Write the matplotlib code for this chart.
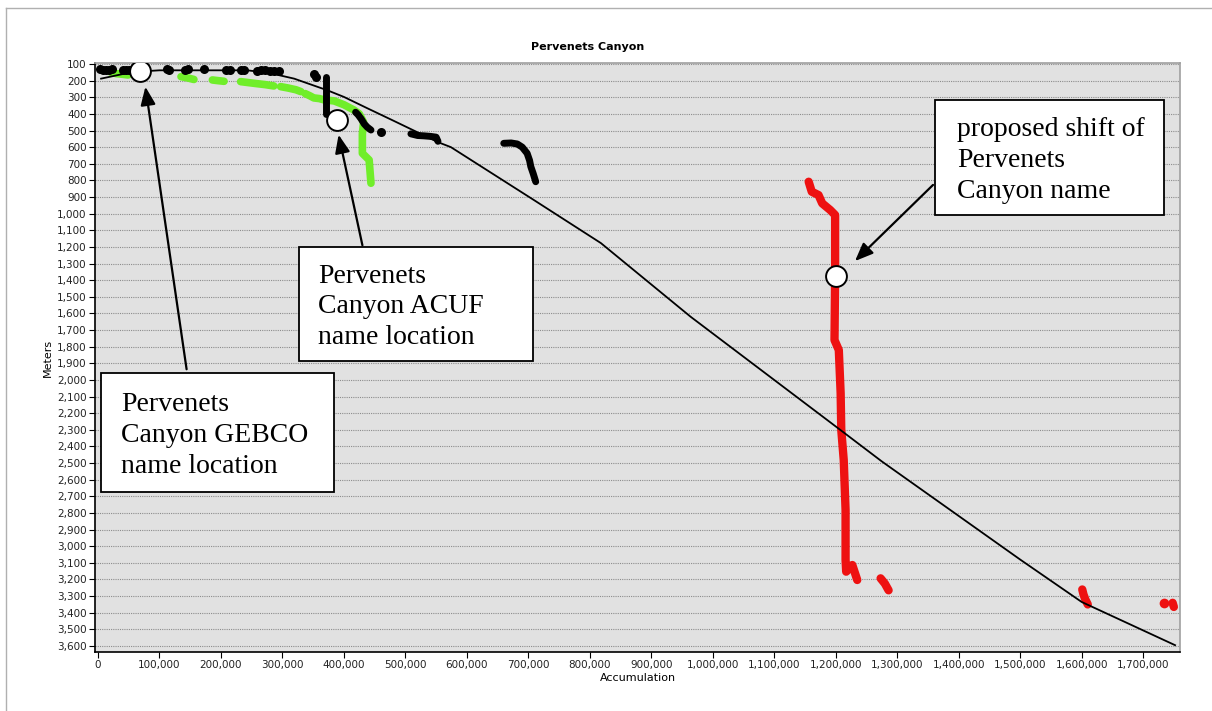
import matplotlib
matplotlib.use("Agg")
import matplotlib.pyplot as plt
from matplotlib.patches import Rectangle, FancyArrowPatch
from matplotlib.lines import Line2D
from matplotlib.ticker import FuncFormatter

# ---------------- data (accumulation in metres, depth in metres) ----------------
profile_x = [5000, 56000, 100000, 243000, 280000, 319000, 373000, 400000, 438000, 480000,
             553000, 574000, 709000, 818000, 964000, 1208000, 1275000, 1500000, 1600000, 1752000]
profile_y = [188, 148, 138, 138, 155, 188, 258, 298, 366, 440,
             570, 600, 918, 1177, 1620, 2302, 2490, 3080, 3335, 3595]

# discrete black soundings
black_dots_x = [3000, 8000, 13000, 18000, 22000, 40000, 45000, 50000, 55000, 60000,
                112000, 116000, 142000, 146000, 172000, 208000, 214000, 232000, 238000,
                258000, 265000, 272000, 280000, 287000, 294000, 352000, 354000, 460000]
black_dots_y = [133, 135, 134, 136, 133, 134, 136, 135, 134, 136,
                133, 135, 134, 133, 133, 134, 137, 134, 137,
                140, 138, 139, 141, 142, 144, 160, 178, 507]

# black sounding tracks
black_bar_x = [371000, 371000]
black_bar_y = [180, 400]
black_t1_x = [419000, 423000, 428000, 433000, 438000, 444000]
black_t1_y = [390, 405, 430, 460, 480, 497]
black_t2_x = [509000, 520000, 530000, 540000, 550000, 553000]
black_t2_y = [520, 530, 532, 535, 540, 565]
black_t3_x = [660000, 672000, 682000, 690000, 698000, 702000, 704000, 708000, 712000]
black_t3_y = [577, 575, 581, 600, 637, 680, 717, 760, 808]

# green track (segments)
green_segments = [
    ([21000, 30000, 40000, 49000], [150, 158, 162, 166]),
    ([135000, 145000, 156000], [176, 183, 193]),
    ([186000, 195000, 205000], [196, 200, 204]),
    ([232000, 245000, 258000, 272000, 286000], [206, 212, 218, 224, 232]),
    ([297000, 310000, 322000, 330000], [236, 245, 255, 266]),
    ([337000, 345000, 351000, 360000, 368000, 384000, 400000, 416000, 425000,
      432000, 430000, 430000, 441000, 444000],
     [278, 292, 304, 308, 316, 322, 345, 376, 400, 450, 520, 637, 677, 817]),
]

# red track (segments)
red_segments = [
    ([1156000, 1161000, 1172000, 1178000, 1191000, 1199000, 1199000, 1198000, 1205000,
      1208000, 1209000, 1213000, 1216000, 1216000, 1217000, 1227000, 1235000],
     [808, 868, 888, 938, 978, 1008, 1379, 1760, 1820, 2080, 2300, 2481, 2782, 3082,
      3153, 3113, 3203]),
    ([1273000, 1280000, 1286000], [3193, 3225, 3265]),
    ([1601000, 1603000, 1606000, 1610000], [3260, 3290, 3320, 3350]),
    ([1734000], [3340]),
    ([1748000, 1750000], [3340, 3365]),
]

# name-location markers
circles_x = [69000, 388000, 1200000]
circles_y = [140, 435, 1373]

box_texts = ["Pervenets\nCanyon GEBCO\nname location",
             "Pervenets\nCanyon ACUF\nname location",
             "proposed shift of\nPervenets\nCanyon name"]

y_ticks = list(range(100, 3700, 100))
x_ticks = list(range(0, 1800000, 100000))

# ---------------- figure ----------------
W, H = 1212, 711
fig = plt.figure(figsize=(W / 100, H / 100), dpi=100)
fig.patch.set_facecolor("white")


def fx(px):
    return px / W


def fy(py):
    return 1 - py / H


ax = fig.add_axes([fx(95), fy(652), fx(1180) - fx(95), fy(63) - fy(652)])
ax.set_facecolor("#e1e1e1")
ax.set_xlim(-4900, 1760000)
ax.set_ylim(3636, 94)

ax.set_yticks(y_ticks)
ax.set_xticks(x_ticks)
fmt = FuncFormatter(lambda v, p: f"{int(v):,}")
ax.xaxis.set_major_formatter(fmt)
ax.yaxis.set_major_formatter(fmt)
ax.tick_params(axis="both", labelsize=7.5, length=4, width=0.8, direction="out",
               colors="black", labelcolor="#222222", pad=2)

ax.grid(axis="y", color="#8c8c8c", linestyle=(0, (1, 1)), linewidth=0.8)
ax.set_axisbelow(True)

for side in ["top", "right"]:
    ax.spines[side].set_color("#a0a0a0")
    ax.spines[side].set_linewidth(1.2)
for side in ["left", "bottom"]:
    ax.spines[side].set_color("black")
    ax.spines[side].set_linewidth(1.2)

ax.set_xlabel("Accumulation", fontsize=8, labelpad=2)
ax.set_ylabel("Meters", fontsize=8, labelpad=3)

# tracks
for xs, ys in green_segments:
    ax.plot(xs, ys, color="#70ee2a", lw=5.5, solid_capstyle="round", solid_joinstyle="round", zorder=3)
for xs, ys in red_segments:
    if len(xs) == 1:
        ax.plot(xs, ys, "o", color="#ee1111", ms=7, mec="none", zorder=3)
    else:
        ax.plot(xs, ys, color="#ee1111", lw=6, solid_capstyle="round", solid_joinstyle="round", zorder=3)
for xs, ys in [(black_bar_x, black_bar_y), (black_t1_x, black_t1_y),
               (black_t2_x, black_t2_y), (black_t3_x, black_t3_y)]:
    ax.plot(xs, ys, color="black", lw=5, solid_capstyle="round", solid_joinstyle="round", zorder=4)
ax.plot(black_dots_x, black_dots_y, "o", color="black", ms=6.5, mec="none", zorder=4)

ax.plot(profile_x, profile_y, color="black", lw=1.3, zorder=5)

ax.plot(circles_x, circles_y, "o", ms=15, mfc="white", mec="black", mew=1.4, zorder=8)

fig.text(fx(588), fy(47), "Pervenets Canyon", ha="center", va="center",
         fontsize=8, fontweight="bold")

# outer frame lines
fig.add_artist(Line2D([fx(6), 1.0], [fy(8), fy(8)], color="#b0b0b0", lw=1))
fig.add_artist(Line2D([fx(6), fx(6)], [fy(8), 0.0], color="#b0b0b0", lw=1))

# text boxes
boxes = [(101, 373, 334, 492, 121), (299, 247, 533, 361, 318), (935, 100, 1164, 215, 957)]
for (x0, y0, x1, y1, tx), txt in zip(boxes, box_texts):
    fig.add_artist(Rectangle((fx(x0), fy(y1)), fx(x1) - fx(x0), fy(y0) - fy(y1),
                             facecolor="white", edgecolor="black", lw=1.3,
                             transform=fig.transFigure, zorder=10))
    fig.text(fx(tx), (fy(y0) + fy(y1)) / 2 - 0.004, txt, ha="left", va="center",
             fontsize=20, family="Liberation Serif", linespacing=1.3, zorder=11)

# arrows
arrows = [((187, 372), (145, 84)), ((363, 248), (338, 132)), ((935, 183), (853, 263))]
for (t, h) in arrows:
    fig.add_artist(FancyArrowPatch((fx(t[0]), fy(t[1])), (fx(h[0]), fy(h[1])),
                                   transform=fig.transFigure,
                                   arrowstyle="-|>,head_length=11,head_width=4.5",
                                   mutation_scale=1.0, color="black", lw=1.6, zorder=12))

fig.savefig("out.png", dpi=100)
